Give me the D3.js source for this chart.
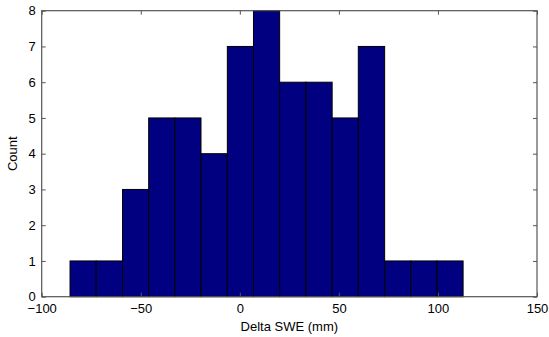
<!DOCTYPE html>
<html><head><meta charset="utf-8">
<script src="https://cdn.jsdelivr.net/npm/d3@7"></script>
<style>body{margin:0;background:#fff}svg{display:block}text{font-family:"Liberation Sans",Arial,sans-serif;}</style>
</head><body><svg id="c" width="549" height="337"></svg>
<script>
const binEdges = [-85.7, -72.5, -59.2, -46.0, -32.8, -19.6, -6.3, 6.9, 20.1, 33.4, 46.6, 59.8, 73.1, 86.3, 99.5, 112.7];
const counts = [1, 1, 3, 5, 5, 4, 7, 8, 6, 6, 5, 7, 1, 1, 1];
const xTicks = [-100, -50, 0, 50, 100, 150];
const yTicks = [0, 1, 2, 3, 4, 5, 6, 7, 8];
const xLabel = "Delta SWE (mm)";
const yLabel = "Count";

const L = 41.7, R = 537, T = 10.7, B = 296.7;
const svg = d3.select("#c");
const x = d3.scaleLinear().domain([-100, 150]).range([L, R]);
const y = d3.scaleLinear().domain([0, 8]).range([B, T]);
const axisCol = "#555";
const fs = "13px";

// bars
svg.append("g").selectAll("rect").data(counts).join("rect")
  .attr("x", (d, i) => x(binEdges[i]))
  .attr("width", (d, i) => x(binEdges[i + 1]) - x(binEdges[i]))
  .attr("y", d => y(d))
  .attr("height", d => y(0) - y(d))
  .attr("fill", "#000080").attr("stroke", "#000").attr("stroke-width", 1);

// box
svg.append("rect").attr("x", L).attr("y", T).attr("width", R - L).attr("height", B - T)
  .attr("fill", "none").attr("stroke", axisCol).attr("stroke-width", 1.2);

const tl = 4;
const xb = d3.axisBottom(x).tickValues(xTicks).tickSize(-tl).tickPadding(7).tickFormat(d3.format("d"));
const xt = d3.axisTop(x).tickValues(xTicks).tickSize(-tl).tickFormat("");
const yl = d3.axisLeft(y).tickValues(yTicks).tickSize(-tl).tickPadding(6).tickFormat(d3.format("d"));
const yr = d3.axisRight(y).tickValues(yTicks).tickSize(-tl).tickFormat("");
function style(g){ g.select(".domain").remove(); g.selectAll("line").attr("stroke", axisCol); g.selectAll("text").attr("fill","#000").style("font-size",fs).style("font-family","'Liberation Sans',Arial,sans-serif"); }
svg.append("g").attr("transform", `translate(0,${B})`).call(xb).call(style);
svg.append("g").attr("transform", `translate(0,${T})`).call(xt).call(style);
svg.append("g").attr("transform", `translate(${L},0)`).call(yl).call(style);
svg.append("g").attr("transform", `translate(${R},0)`).call(yr).call(style);

svg.append("text").attr("x", (L + R) / 2).attr("y", 331).attr("text-anchor", "middle")
  .style("font-size", fs).text(xLabel);
svg.append("text").attr("transform", `translate(17,${(T + B) / 2}) rotate(-90)`).attr("text-anchor", "middle")
  .style("font-size", fs).text(yLabel);
</script></body></html>
